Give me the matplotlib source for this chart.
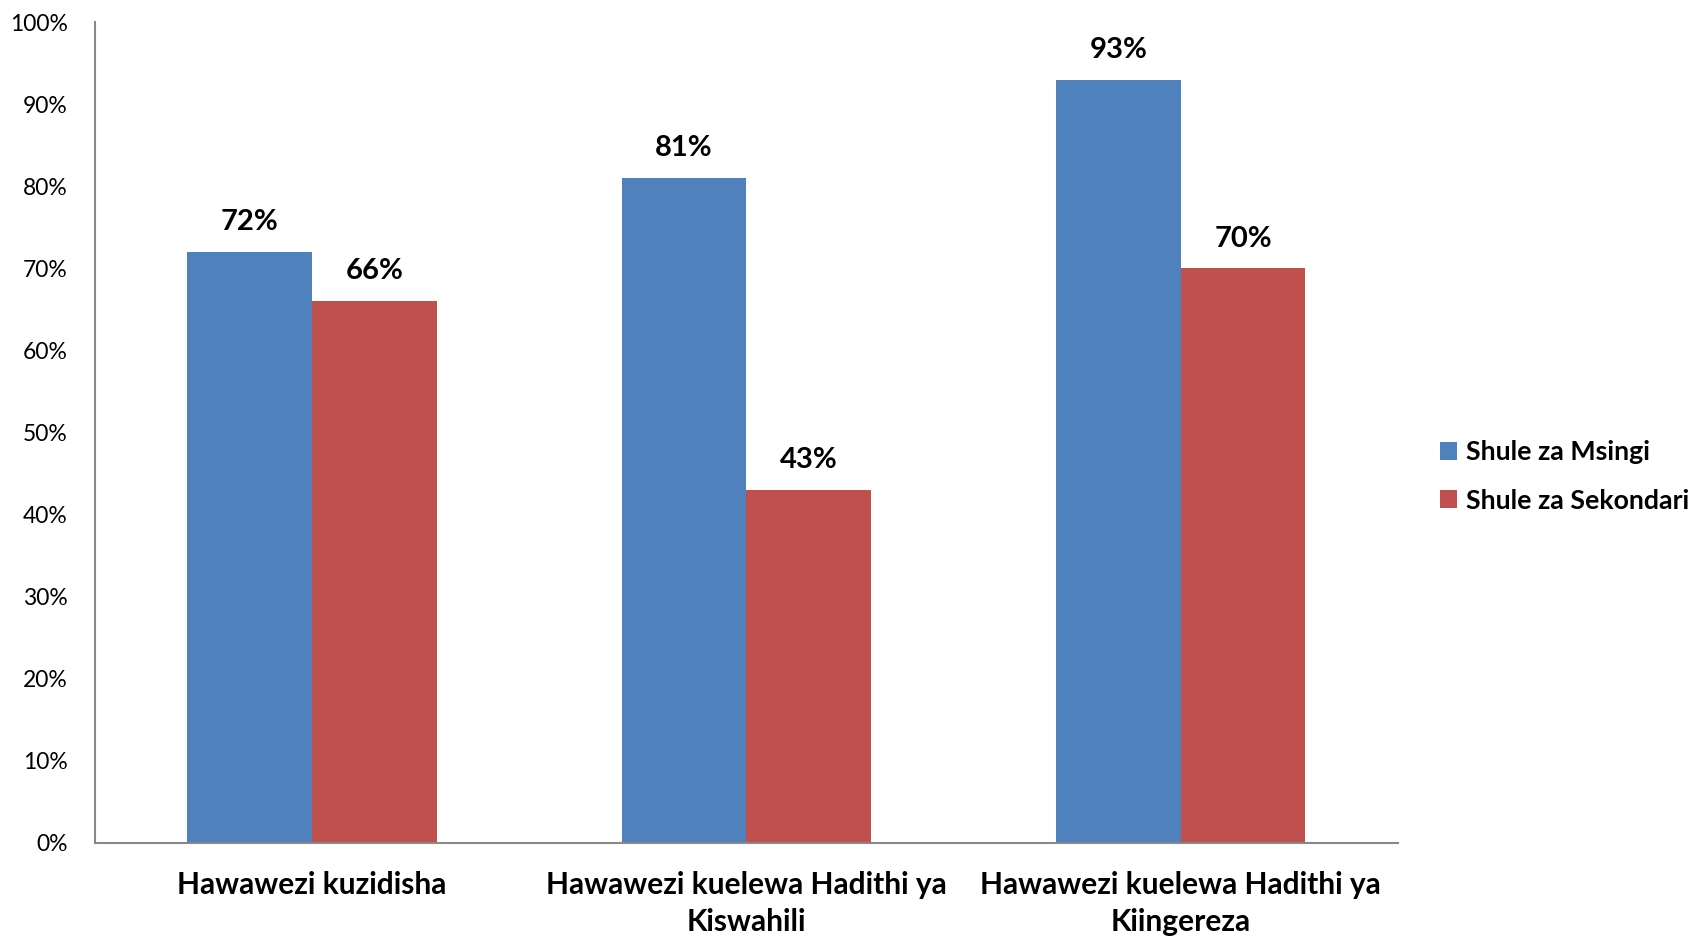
import matplotlib
matplotlib.use("Agg")
import matplotlib.pyplot as plt
import numpy as np
from matplotlib.ticker import FuncFormatter

categories = ["Hawawezi kuzidisha",
              "Hawawezi kuelewa Hadithi ya\nKiswahili",
              "Hawawezi kuelewa Hadithi ya\nKiingereza"]
series_names = ["Shule za Msingi", "Shule za Sekondari"]
msingi = [72, 81, 93]
sekondari = [66, 43, 70]
yticks = [0, 10, 20, 30, 40, 50, 60, 70, 80, 90, 100]

colors = ["#4F81BD", "#C0504D"]
plt.rcParams['font.family'] = ['Lato', 'DejaVu Sans']

fig = plt.figure(figsize=(16.98, 9.38), dpi=100)
ax = fig.add_axes([0.0559, 0.1013, 0.7674, 0.8752])

x = np.arange(len(categories))
w = 0.287
b1 = ax.bar(x - w/2, msingi, w, color=colors[0], label=series_names[0])
b2 = ax.bar(x + w/2, sekondari, w, color=colors[1], label=series_names[1])

for bars, vals in ((b1, msingi), (b2, sekondari)):
    for r, v in zip(bars, vals):
        ax.annotate(f"{v}%", (r.get_x() + r.get_width()/2, v),
                    xytext=(0, 12), textcoords="offset points",
                    ha="center", va="bottom", fontsize=21, fontweight="bold")

ax.set_xlim(-0.5, 2.5)
ax.set_ylim(0, 100)
ax.set_yticks(yticks)
ax.yaxis.set_major_formatter(FuncFormatter(lambda v, p: f"{int(v)}%"))
ax.tick_params(axis="y", length=0, labelsize=16.5, pad=19.5)
ax.set_xticks(x)
ax.set_xticklabels(categories, fontsize=21.5, fontweight="bold", linespacing=1.4)
ax.tick_params(axis="x", length=0, pad=20)
for s in ("top", "right"):
    ax.spines[s].set_visible(False)
for s in ("left", "bottom"):
    ax.spines[s].set_color("#898989")
    ax.spines[s].set_linewidth(1.5)

leg = fig.legend(handles=[b1, b2], labels=series_names, loc="center left",
                 bbox_to_anchor=(0.848, 0.492), frameon=False,
                 prop={"size": 19.3, "weight": "bold"}, handlelength=0.62,
                 handleheight=0.62, handletextpad=0.35, labelspacing=0.9,
                 borderaxespad=0, borderpad=0)

fig.savefig("out.png", dpi=100)
